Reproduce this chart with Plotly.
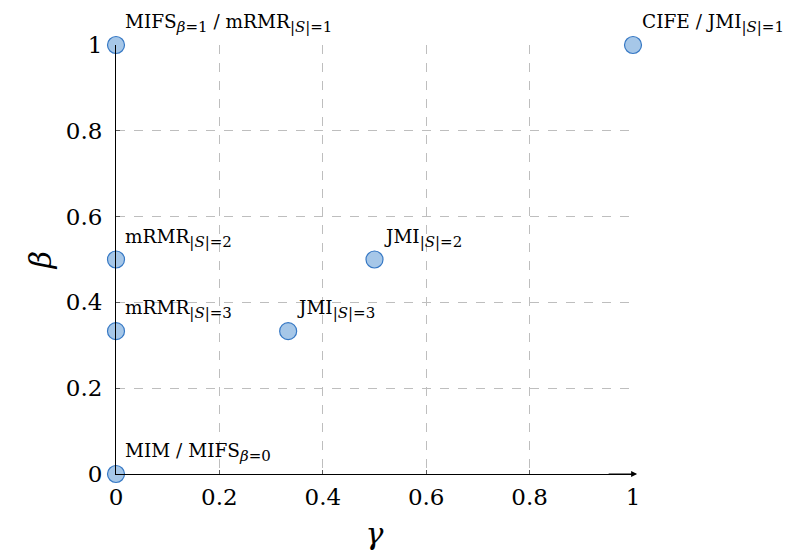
import plotly.graph_objects as go

gamma = [0, 1, 0, 0.5, 0, 0.333, 0]
beta = [1, 1, 0.5, 0.5, 0.333, 0.333, 0]
SUB = "<sub><span style='font-size:15px'>{}</span></sub>"
labels = [
    "MIFS" + SUB.format("<i>β</i>=1") + " / mRMR" + SUB.format("|<i>S</i>|=1"),
    "CIFE / JMI" + SUB.format("|<i>S</i>|=1"),
    "mRMR" + SUB.format("|<i>S</i>|=2"),
    "JMI" + SUB.format("|<i>S</i>|=2"),
    "mRMR" + SUB.format("|<i>S</i>|=3"),
    "JMI" + SUB.format("|<i>S</i>|=3"),
    "MIM / MIFS" + SUB.format("<i>β</i>=0"),
]
xticks = [0, 0.2, 0.4, 0.6, 0.8, 1]
yticks = [0, 0.2, 0.4, 0.6, 0.8, 1]
xtick_text = ["0", "0.2", "0.4", "0.6", "0.8", "1"]
ytick_text = ["0", "0.2", "0.4", "0.6", "0.8", "1"]

FONT = "DejaVu Serif"

fig = go.Figure()
fig.add_trace(go.Scatter(
    x=gamma, y=beta, mode="markers",
    marker=dict(size=17, color="rgb(166,199,232)", line=dict(color="rgb(54,120,196)", width=1.2)),
    cliponaxis=False, hoverinfo="skip", showlegend=False,
))

anns = []
for gx, by, lab in zip(gamma, beta, labels):
    anns.append(dict(x=gx, y=by, xref="x", yref="y", text=lab, showarrow=False,
                     xanchor="left", yanchor="bottom", xshift=7, yshift=7,
                     font=dict(family=FONT, size=18.5, color="black")))
# x axis arrow
anns.append(dict(x=1.008, y=0, ax=0.95, ay=0, xref="x", yref="y", axref="x", ayref="y",
                 text="", showarrow=True, arrowhead=2, arrowsize=1.2, arrowwidth=1,
                 arrowcolor="black"))

fig.update_layout(
    width=797, height=551,
    margin=dict(l=108, r=172, t=37, b=85),
    plot_bgcolor="white", paper_bgcolor="white",
    font=dict(family=FONT, size=20, color="black"),
    annotations=anns,
    xaxis=dict(range=[0, 1], tickvals=xticks, ticktext=xtick_text,
               showgrid=True, gridcolor="rgb(190,190,190)", griddash="dash", gridwidth=1,
               zeroline=False, showline=True, linecolor="black", linewidth=1,
               ticks="inside", ticklen=4, tickcolor="rgb(90,90,90)",
               tickfont=dict(family=FONT, size=23), ticklabelstandoff=2,
               title=dict(text="<i>γ</i>", font=dict(family=FONT, size=30), standoff=14)),
    yaxis=dict(range=[0, 1], tickvals=yticks, ticktext=ytick_text,
               showgrid=True, gridcolor="rgb(190,190,190)", griddash="dash", gridwidth=1,
               zeroline=False, showline=True, linecolor="black", linewidth=1,
               ticks="inside", ticklen=4, tickcolor="rgb(90,90,90)",
               tickfont=dict(family=FONT, size=23), ticklabelstandoff=8,
               title=dict(text="<i>β</i>", font=dict(family=FONT, size=30), standoff=5)),
)

fig.write_html("out.html")
